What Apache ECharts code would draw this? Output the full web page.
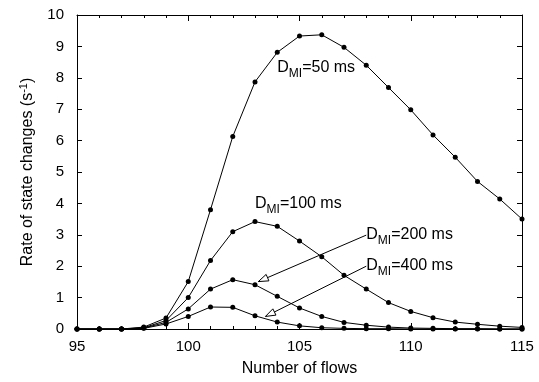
<!DOCTYPE html>
<html><head><meta charset="utf-8">
<script src="https://cdn.jsdelivr.net/npm/echarts@6/dist/echarts.min.js"></script>
<style>html,body{margin:0;padding:0;background:#fff}#c{width:539px;height:382px}</style>
</head><body><div id="c"></div>
<script>
const flows = [95,96,97,98,99,100,101,102,103,104,105,106,107,108,109,110,111,112,113,114,115];
const d50  = [0,0,0,0.06,0.35,1.51,3.80,6.13,7.87,8.81,9.33,9.37,8.97,8.40,7.69,6.98,6.18,5.47,4.70,4.14,3.50];
const d100 = [0,0,0,0.04,0.27,1.00,2.18,3.10,3.42,3.27,2.80,2.30,1.71,1.27,0.84,0.56,0.36,0.22,0.15,0.09,0.05];
const d200 = [0,0,0,0.03,0.21,0.64,1.27,1.57,1.41,1.04,0.67,0.40,0.21,0.12,0.06,0.03,0.02,0.01,0.01,0,0];
const d400 = [0,0,0,0.02,0.16,0.40,0.70,0.69,0.42,0.22,0.10,0.04,0.02,0.01,0.01,0,0,0,0,0,0];
const labelNames = ['50 ms','100 ms','200 ms','400 ms'];
const labelPos = [[104.0,8.38],[103.0,4.06],[108.0,3.08],[108.0,2.08]];
// arrows: [fromX, fromY, toX, toY]
const arrows = [[108.0,2.99,103.15,1.51],[108.0,2.0,103.47,0.40]];

const FONT = '"Liberation Sans", Arial, sans-serif';
const rich = {
  a:{fontSize:16, fontFamily:FONT, color:'#000', verticalAlign:'bottom', lineHeight:20},
  b:{fontSize:12, fontFamily:FONT, color:'#000', verticalAlign:'bottom', lineHeight:20, padding:[0,0,-4,0]}
};

function mkSeries(name, vals, extra){
  return Object.assign({
    name, type:'line', data: flows.map((f,i)=>[f, vals[i]]),
    symbol:'circle', symbolSize:5, showSymbol:true,
    itemStyle:{color:'#000'}, lineStyle:{color:'#000', width:1},
    animation:false, z:3
  }, extra||{});
}

function renderArrow(params, api){
  const p0 = api.coord([api.value(0), api.value(1)]);
  const p1 = api.coord([api.value(2), api.value(3)]);
  const dx = p1[0]-p0[0], dy = p1[1]-p0[1];
  const L = Math.sqrt(dx*dx+dy*dy), ux = dx/L, uy = dy/L;
  const hl = 10, hw = 3.5;
  const bx = p1[0]-ux*hl, by = p1[1]-uy*hl;
  return {type:'group', children:[
    {type:'line', shape:{x1:p0[0], y1:p0[1], x2:p1[0], y2:p1[1]}, style:{stroke:'#000', lineWidth:1}},
    {type:'polygon', shape:{points:[[p1[0],p1[1]],[bx-uy*hw, by+ux*hw],[bx+uy*hw, by-ux*hw]]},
      style:{fill:'#fff', stroke:'#000', lineWidth:1}}
  ]};
}

const chart = echarts.init(document.getElementById('c'), null, {renderer:'canvas'});
const axisCommon = {
  axisLine:{show:true, onZero:false, lineStyle:{color:'#000', width:1}},
  splitLine:{show:false}
};
chart.setOption({
  animation:false,
  backgroundColor:'#fff',
  grid:{left:77, right:17, top:15, bottom:53},
  xAxis:[
    Object.assign({type:'value', min:95, max:115, interval:5, position:'bottom',
      axisTick:{show:true, inside:true, length:6, lineStyle:{color:'#000'}},
      minorTick:{show:true, splitNumber:5, length:3, lineStyle:{color:'#000'}},
      axisLabel:{fontSize:15, fontFamily:FONT, color:'#000', margin:10},
      name:'Number of flows', nameLocation:'middle', nameGap:32,
      nameTextStyle:{fontSize:16, fontFamily:FONT, color:'#000'}
    }, axisCommon),
    Object.assign({type:'value', min:95, max:115, interval:5, position:'top',
      axisTick:{show:true, inside:true, length:6, lineStyle:{color:'#000'}},
      minorTick:{show:true, splitNumber:5, length:3, lineStyle:{color:'#000'}},
      axisLabel:{show:false}
    }, axisCommon)
  ],
  yAxis:[
    Object.assign({type:'value', min:0, max:10, interval:1, position:'left',
      axisTick:{show:true, inside:true, length:5, lineStyle:{color:'#000'}},
      axisLabel:{fontSize:15, fontFamily:FONT, color:'#000', margin:13},
      name:'{a|Rate of state changes (s}{s|-1}{a|)}', nameLocation:'middle', nameGap:40, nameRotate:90,
      nameTextStyle:{rich:{
        a:{fontSize:16, fontFamily:FONT, color:'#000'},
        s:{fontSize:11, fontFamily:FONT, color:'#000', padding:[0,0,8,0]}
      }}
    }, axisCommon),
    Object.assign({type:'value', min:0, max:10, interval:1, position:'right',
      axisTick:{show:true, inside:true, length:5, lineStyle:{color:'#000'}},
      axisLabel:{show:false}
    }, axisCommon)
  ],
  series:[
    mkSeries('D50', d50),
    mkSeries('D100', d100),
    mkSeries('D200', d200),
    mkSeries('D400', d400, {
      markPoint:{
        symbol:'circle', symbolSize:0, silent:true, animation:false,
        data: labelPos.map((p,i)=>({coord:p, label:{show:true, position:'right', distance:0,
          formatter:'{a|D}{b|MI}{a|=' + labelNames[i] + '}', rich}}))
      }
    }),
    {type:'custom', name:'arrows', data: arrows, renderItem: renderArrow,
     encode:{x:[0,2], y:[1,3]}, silent:true, animation:false, z:4, clip:false}
  ]
});
</script>
</body></html>
